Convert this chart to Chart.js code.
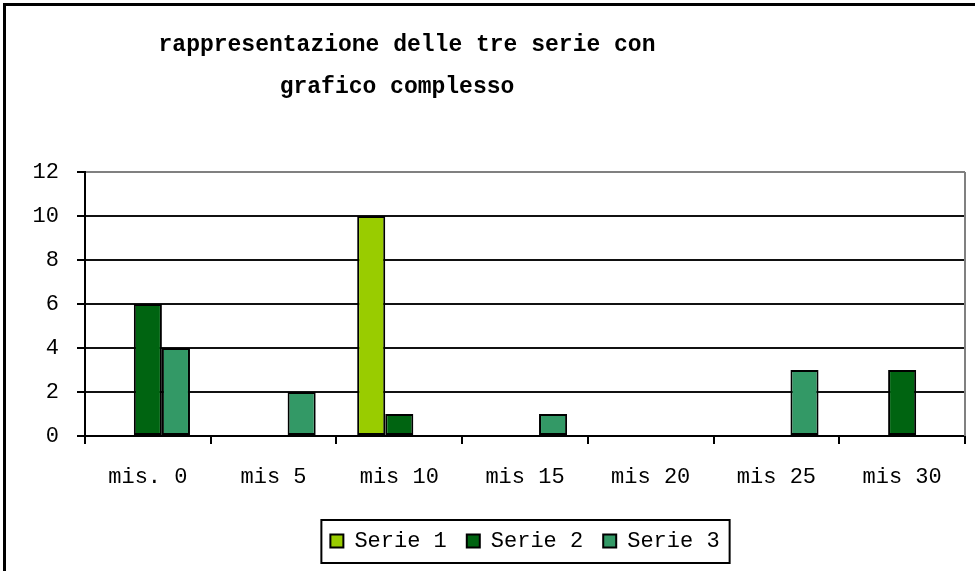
<!DOCTYPE html>
<html>
<head>
<meta charset="utf-8">
<script src="https://cdn.jsdelivr.net/npm/chart.js@4.4.1/dist/chart.umd.min.js"></script>
<style>
  html, body { margin: 0; padding: 0; background: #fff; }
  #wrap { width: 975px; height: 571px; }
</style>
</head>
<body>
<div id="wrap"><canvas id="chart" width="975" height="571"></canvas></div>
<script>
// data
const categories = ["mis. 0", "mis 5", "mis 10", "mis 15", "mis 20", "mis 25", "mis 30"];
const serie1 = [0, 0, 10, 0, 0, 0, 0];
const serie2 = [6, 0, 1, 0, 0, 0, 3];
const serie3 = [4, 2, 0, 1, 0, 3, 0];
const seriesNames = ["Serie 1", "Serie 2", "Serie 3"];
const seriesColors = ["#99CC00", "#006411", "#339966"];
const titleLines = ["rappresentazione delle tre serie con", "grafico complesso"];
const yMin = 0, yMax = 12, yStep = 2;

const MONO = "'Liberation Mono', 'Courier New', monospace";

// outer frame (only top and left edges visible)
const framePlugin = {
  id: "frame",
  beforeDraw(chart) {
    const ctx = chart.ctx;
    ctx.save();
    ctx.fillStyle = "#fff";
    ctx.fillRect(0, 0, chart.width, chart.height);
    ctx.strokeStyle = "#000";
    ctx.lineWidth = 3;
    ctx.beginPath();
    ctx.moveTo(4.5, chart.height);
    ctx.lineTo(4.5, 4.5);
    ctx.lineTo(chart.width, 4.5);
    ctx.stroke();
    ctx.restore();
  }
};

// title drawn by hand so it can sit left of centre like the original
const titlePlugin = {
  id: "titleText",
  afterDraw(chart) {
    const ctx = chart.ctx;
    ctx.save();
    ctx.font = "bold 23px " + MONO;
    ctx.fillStyle = "#000";
    ctx.textAlign = "center";
    ctx.textBaseline = "middle";
    ctx.fillText(titleLines[0], 407, 45);
    ctx.fillText(titleLines[1], 397, 87);
    ctx.restore();
  }
};

// gray right edge of the plot area
const plotEdgePlugin = {
  id: "plotEdge",
  beforeDatasetsDraw(chart) {
    const { ctx, chartArea } = chart;
    ctx.save();
    ctx.strokeStyle = "#808080";
    ctx.lineWidth = 2;
    ctx.beginPath();
    ctx.moveTo(chartArea.right, chartArea.top);
    ctx.lineTo(chartArea.right, chartArea.bottom);
    ctx.stroke();
    ctx.restore();
  }
};

// border box around legend
const legendBoxPlugin = {
  id: "legendBox",
  afterDraw(chart) {
    const lg = chart.legend;
    if (!lg || !lg.legendHitBoxes.length) return;
    const hb = lg.legendHitBoxes;
    const first = hb[0], last = hb[hb.length - 1];
    const mid = first.top + first.height / 2;
    const ctx = chart.ctx;
    ctx.save();
    ctx.strokeStyle = "#000";
    ctx.lineWidth = 2;
    ctx.strokeRect(first.left - 9, mid - 21, last.left + last.width + 10 - (first.left - 9), 43);
    ctx.restore();
  }
};

const datasets = [serie1, serie2, serie3].map((vals, i) => ({
  label: seriesNames[i],
  data: vals,
  backgroundColor: seriesColors[i],
  borderColor: "#000",
  borderWidth: 2,
  borderSkipped: false,
  categoryPercentage: 0.67,
  barPercentage: 1
}));

new Chart(document.getElementById("chart"), {
  type: "bar",
  data: { labels: categories, datasets },
  options: {
    responsive: false,
    devicePixelRatio: 1,
    animation: false,
    layout: { padding: { top: 172, right: 10, left: 0, bottom: 9 } },
    plugins: {
      title: { display: false },
      tooltip: { enabled: false },
      legend: {
        position: "bottom",
        fullSize: false,
        labels: {
          color: "#000",
          font: { family: MONO, size: 22 },
          boxWidth: 13,
          boxHeight: 13,
          padding: 20
        }
      }
    },
    scales: {
      x: {
        grid: {
          offset: true,
          drawOnChartArea: false,
          color: "#000",
          lineWidth: 2,
          tickLength: 8
        },
        border: { color: "#000", width: 2 },
        ticks: {
          color: "#000",
          font: { family: MONO, size: 22 },
          padding: 20,
          maxRotation: 0,
          autoSkip: false
        },
        afterFit(s) { s.height = 74; }
      },
      y: {
        min: yMin,
        max: yMax,
        grid: {
          color: (c) => (c.tick && c.tick.value === yMax ? "#808080" : "#111"),
          tickColor: "#000",
          lineWidth: 2,
          tickLength: 8
        },
        border: { color: "#000", width: 2 },
        ticks: {
          stepSize: yStep,
          color: "#000",
          font: { family: MONO, size: 22 },
          padding: 18
        },
        afterFit(s) { s.width = 85; }
      }
    }
  },
  plugins: [framePlugin, plotEdgePlugin, titlePlugin, legendBoxPlugin]
});
</script>
</body>
</html>
